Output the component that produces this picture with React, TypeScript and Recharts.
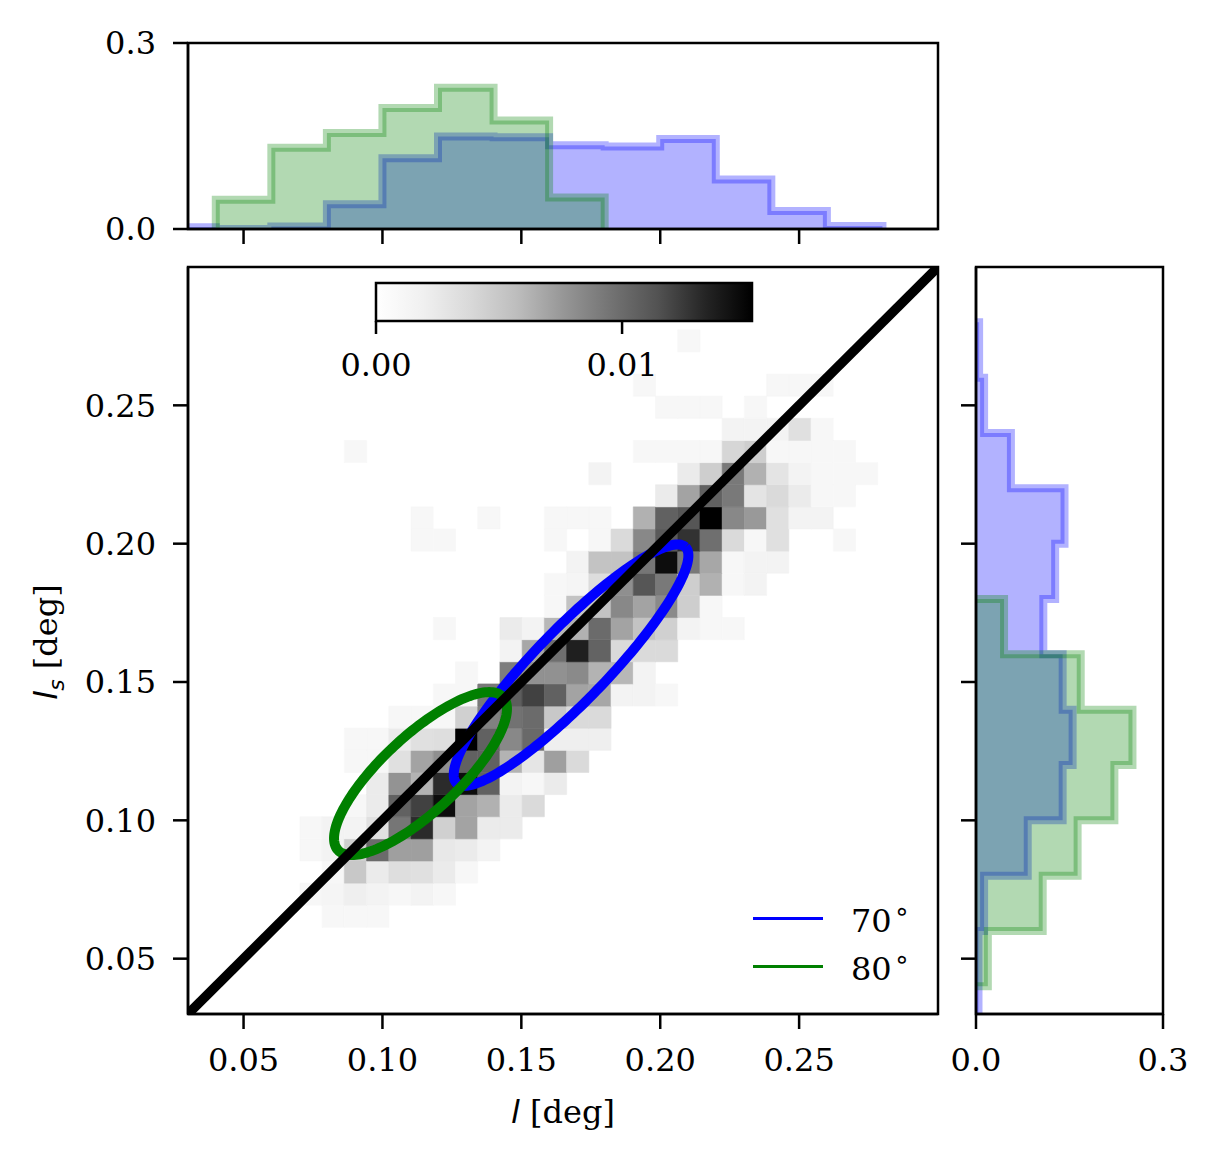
import React from "react";
import { ComposedChart, Area, Line, XAxis, YAxis, ReferenceArea } from "recharts";

const W = 1220;
const H = 1163;
const SERIF = '"DejaVu Serif", serif';
const SANS = '"DejaVu Sans", sans-serif';

// axis ticks
const MAIN_TICKS = [0.05, 0.1, 0.15, 0.2, 0.25];
const HIST_TICKS = [0, 0.3];
const CB_TICKS = [0, 0.01];
const CB_MAX = 0.01528;

// 2d histogram (density x 1e-3), rows from bottom (y) to top, columns left to right (x)
const HEAT_X0 = 0.0703;
const HEAT_Y0 = 0.0613;
const HEAT_BIN = 0.008;
const HEAT_ROWS = [
  [0, 1, 1, 1, 0, 0, 0, 0, 0, 0, 0, 0, 0, 0, 0, 0, 0, 0, 0, 0, 0, 0, 0, 0, 0, 0],
  [1, 1.3, 2, 1.5, 1, 1.5, 1, 0, 0, 0, 0, 0, 0, 0, 0, 0, 0, 0, 0, 0, 0, 0, 0, 0, 0, 0],
  [0, 1, 5, 2.3, 3.4, 3.2, 2.3, 1, 0, 0, 0, 0, 0, 0, 0, 0, 0, 0, 0, 0, 0, 0, 0, 0, 0, 0],
  [1, 1.5, 4.5, 10, 7.2, 7.2, 2.6, 2.3, 1.5, 0, 0, 0, 0, 0, 0, 0, 0, 0, 0, 0, 0, 0, 0, 0, 0, 0],
  [1, 1.5, 1.5, 3.2, 9.4, 13.1, 4.4, 7, 2.3, 2.3, 0, 0, 0, 0, 0, 0, 0, 0, 0, 0, 0, 0, 0, 0, 0, 0],
  [0, 0, 1, 2.3, 10.6, 12.2, 14.6, 7, 6.3, 2.3, 3.7, 0, 0, 0, 0, 0, 0, 0, 0, 0, 0, 0, 0, 0, 0, 0],
  [0, 0, 0, 2.3, 7.8, 6.2, 13.1, 14.6, 10.6, 1.5, 1, 2.3, 0, 0, 0, 0, 0, 0, 0, 0, 0, 0, 0, 0, 0, 0],
  [0, 0, 1, 1, 3.2, 7, 8, 10.6, 10.6, 6.2, 2.8, 7.2, 3.7, 0, 0, 0, 0, 0, 0, 0, 0, 0, 0, 0, 0, 0],
  [0, 0, 1, 1, 2.3, 3.2, 3.4, 15.3, 10.6, 8.4, 10.1, 2, 2, 2, 0, 0, 0, 0, 0, 0, 0, 0, 0, 0, 0, 0],
  [0, 0, 0, 0, 1, 1, 1, 4.4, 8.8, 9.6, 10, 5, 3.7, 3.7, 0, 0, 0, 0, 0, 0, 0, 0, 0, 0, 0, 0],
  [0, 0, 0, 0, 0, 0, 1, 1, 9.2, 10.8, 12.2, 10.6, 7, 6.8, 1.5, 1.5, 1, 0, 0, 0, 0, 0, 0, 0, 0, 0],
  [0, 0, 0, 0, 0, 0, 0, 1, 0, 9, 7.9, 7.9, 8.3, 6.2, 6, 1.5, 0, 0, 0, 0, 0, 0, 0, 0, 0, 0],
  [0, 0, 0, 0, 0, 0, 0, 0, 0, 1.5, 6.8, 9.8, 13.7, 10.5, 3.7, 3.7, 3.7, 0, 0, 0, 0, 0, 0, 0, 0, 0],
  [0, 0, 0, 0, 0, 0, 1, 0, 0, 2.3, 1.5, 6, 6.3, 10, 7, 5.3, 4.4, 1.5, 1, 1, 0, 0, 0, 0, 0, 0],
  [0, 0, 0, 0, 0, 0, 0, 0, 0, 0, 0, 1, 5.3, 5.3, 8.4, 7, 8.3, 4.6, 1, 0, 0, 0, 0, 0, 0, 0],
  [0, 0, 0, 0, 0, 0, 0, 0, 0, 0, 0, 1, 1.3, 3.5, 8, 11.2, 9.2, 4.6, 6.3, 1, 1.5, 0, 0, 0, 0, 0],
  [0, 0, 0, 0, 0, 0, 0, 0, 0, 0, 0, 0, 1.5, 5.3, 5.3, 9.4, 14.6, 9.2, 6.8, 1, 1.5, 1.5, 0, 0, 0, 0],
  [0, 0, 0, 0, 0, 1, 1, 0, 0, 0, 0, 1, 0, 1, 3.7, 8.4, 11, 12.8, 9.8, 3.7, 1, 3.2, 0, 0, 1, 0],
  [0, 0, 0, 0, 0, 1, 0, 0, 1, 0, 0, 1, 1, 1, 0, 6.3, 10.6, 11.2, 15.3, 8.4, 7.5, 3.2, 1.5, 1.5, 0, 0],
  [0, 0, 0, 0, 0, 0, 0, 0, 0, 0, 0, 0, 0, 0, 0, 0, 2.3, 7, 10.6, 9.2, 2.9, 3.7, 2.3, 1, 1, 0],
  [0, 0, 0, 0, 0, 0, 0, 0, 0, 0, 0, 0, 0, 1.5, 0, 0, 0, 2.3, 4.6, 9.2, 6.3, 2.9, 1.5, 1, 1, 1],
  [0, 0, 1, 0, 0, 0, 0, 0, 0, 0, 0, 0, 0, 0, 0, 1, 1, 1, 1, 4, 4.6, 1, 1, 1, 1, 0],
  [0, 0, 0, 0, 0, 0, 0, 0, 0, 0, 0, 0, 0, 0, 0, 0, 0, 0, 0, 1.5, 1.5, 1.5, 3.2, 1, 0, 0],
  [0, 0, 0, 0, 0, 0, 0, 0, 0, 0, 0, 0, 0, 0, 0, 0, 1, 1, 1, 0, 1, 0, 0, 0, 0, 0],
  [0, 0, 0, 0, 0, 0, 0, 0, 0, 0, 0, 0, 0, 0, 0, 1, 0, 0, 0, 0, 0, 1, 1, 1, 0, 0],
  [0, 0, 0, 0, 0, 0, 0, 0, 0, 0, 0, 0, 0, 0, 0, 0, 0, 0, 0, 0, 0, 0, 0, 0, 0, 0],
  [0, 0, 0, 0, 0, 0, 0, 0, 0, 0, 0, 0, 0, 0, 0, 0, 0, 1, 0, 0, 0, 0, 0, 0, 0, 0],
];

// marginal histograms: bin edges and heights
const TOP_BLUE_EDGES = [0.03, 0.04, 0.06, 0.08, 0.1, 0.12, 0.14, 0.16, 0.18, 0.2, 0.22, 0.24, 0.26, 0.28];
const TOP_BLUE = [0.003, 0, 0.004, 0.04, 0.114, 0.149, 0.148, 0.135, 0.133, 0.145, 0.08, 0.029, 0.005];
const TOP_GREEN_EDGES = [0.04, 0.06, 0.08, 0.1, 0.12, 0.14, 0.16, 0.18];
const TOP_GREEN = [0.047, 0.131, 0.155, 0.195, 0.228, 0.175, 0.051];

const SIDE_BLUE_EDGES = [0.03, 0.06, 0.08, 0.1, 0.12, 0.14, 0.16, 0.18, 0.2, 0.22, 0.24, 0.26, 0.28];
const SIDE_BLUE = [0.004, 0.013, 0.083, 0.139, 0.155, 0.139, 0.108, 0.127, 0.142, 0.056, 0.013, 0.005];
const SIDE_GREEN_EDGES = [0.04, 0.06, 0.08, 0.1, 0.12, 0.14, 0.16, 0.18];
const SIDE_GREEN = [0.019, 0.107, 0.163, 0.222, 0.251, 0.168, 0.045];

// ellipses: [cx, cy, semi-major, semi-minor, angle deg]
const BLUE_ELLIPSE = [0.1679, 0.1561, 0.0593, 0.013, 46];
const GREEN_ELLIPSE = [0.1137, 0.1169, 0.0406, 0.0137, 43];
const DIAGONAL = [0.03, 0.3];

// colorbar extent
const CB_RANGE = [0, CB_MAX];

const LEGEND = [
  { label: "70", color: "#0000ff" },
  { label: "80", color: "#008000" },
];

const GREYS = [255, 240, 217, 189, 150, 115, 82, 37, 0];

function grey(v: number) {
  const t = Math.max(0, Math.min(1, v / CB_MAX)) * 8;
  const i = Math.min(7, Math.floor(t));
  const g = Math.round(GREYS[i] + (GREYS[i + 1] - GREYS[i]) * (t - i));
  return `rgb(${g},${g},${g})`;
}

const cells = HEAT_ROWS.flatMap((row, r) =>
  row
    .map((v, c) => ({
      x1: HEAT_X0 + c * HEAT_BIN,
      x2: HEAT_X0 + (c + 1) * HEAT_BIN,
      y1: HEAT_Y0 + r * HEAT_BIN,
      y2: HEAT_Y0 + (r + 1) * HEAT_BIN,
      v: v / 1000,
    }))
    .filter((d) => d.v > 0)
);

function stepPoints(edges: number[], vals: number[]) {
  const pts = [{ pos: edges[0], v: 0 }];
  vals.forEach((v, i) => pts.push({ pos: edges[i], v }));
  pts.push({ pos: edges[edges.length - 1], v: 0 });
  return pts;
}

function ellipsePoints(e: number[]) {
  const [cx, cy, a, b, deg] = e;
  const phi = (deg * Math.PI) / 180;
  const pts = [];
  for (let k = 0; k <= 180; k++) {
    const t = (k / 180) * 2 * Math.PI;
    pts.push({
      x: cx + a * Math.cos(t) * Math.cos(phi) - b * Math.sin(t) * Math.sin(phi),
      y: cy + a * Math.cos(t) * Math.sin(phi) + b * Math.sin(t) * Math.cos(phi),
    });
  }
  return pts;
}

const tickStyle = { fill: "#000", fontSize: 32, fontFamily: SERIF };
const lineStyle = { stroke: "#000", strokeWidth: 2.5 };
const noLabel = () => "";

const abs: React.CSSProperties = { position: "absolute", left: 0, top: 0 };

export default function App() {
  return (
    <div style={{ position: "absolute", left: 0, top: 0, width: W, height: H, background: "#fff" }}>
      {/* main joint panel */}
      <div style={abs}>
        <ComposedChart width={W} height={H} margin={{ top: 267, right: 282, bottom: 89, left: 88 }}>
          <XAxis
            type="number"
            dataKey="x"
            domain={[0.03, 0.3]}
            allowDataOverflow
            ticks={MAIN_TICKS}
            tickFormatter={(v) => v.toFixed(2)}
            height={60}
            tickSize={15}
            tickMargin={19}
            tick={tickStyle}
            tickLine={lineStyle}
            axisLine={lineStyle}
          />
          <YAxis
            type="number"
            dataKey="y"
            domain={[0.03, 0.3]}
            allowDataOverflow
            ticks={MAIN_TICKS}
            tickFormatter={(v) => v.toFixed(2)}
            width={100}
            tickSize={15}
            tickMargin={17}
            tick={tickStyle}
            tickLine={lineStyle}
            axisLine={lineStyle}
          />
          {cells.map((d, i) => (
            <ReferenceArea
              key={i}
              x1={d.x1}
              x2={d.x2}
              y1={d.y1}
              y2={d.y2}
              fill={grey(d.v)}
              fillOpacity={1}
              stroke={grey(d.v)}
              strokeWidth={0.6}
            />
          ))}
          <Line
            data={ellipsePoints(BLUE_ELLIPSE)}
            dataKey="y"
            type="linear"
            stroke="#0000ff"
            strokeWidth={10}
            dot={false}
            isAnimationActive={false}
          />
          <Line
            data={ellipsePoints(GREEN_ELLIPSE)}
            dataKey="y"
            type="linear"
            stroke="#008000"
            strokeWidth={10}
            dot={false}
            isAnimationActive={false}
          />
          <Line
            data={DIAGONAL.map((v) => ({ x: v, y: v }))}
            dataKey="y"
            type="linear"
            stroke="#000"
            strokeWidth={9.5}
            dot={false}
            isAnimationActive={false}
          />
          <ReferenceArea x1={0.03} x2={0.3} y1={0.03} y2={0.3} fill="none" stroke="#000" strokeWidth={2.5} />
        </ComposedChart>
      </div>

      {/* top marginal histogram */}
      <div style={abs}>
        <ComposedChart width={W} height={H} margin={{ top: 43, right: 282, bottom: 874, left: 88 }}>
          <XAxis
            type="number"
            dataKey="pos"
            domain={[0.03, 0.3]}
            allowDataOverflow
            ticks={MAIN_TICKS}
            tickFormatter={noLabel}
            height={60}
            tickSize={15}
            tick={tickStyle}
            tickLine={lineStyle}
            axisLine={lineStyle}
          />
          <YAxis
            type="number"
            domain={[0, 0.3]}
            allowDataOverflow
            ticks={HIST_TICKS}
            tickFormatter={(v) => v.toFixed(1)}
            width={100}
            tickSize={15}
            tickMargin={17}
            tick={tickStyle}
            tickLine={lineStyle}
            axisLine={lineStyle}
          />
          <Area
            data={stepPoints(TOP_BLUE_EDGES, TOP_BLUE)}
            dataKey="v"
            type="stepAfter"
            fill="#0000ff"
            fillOpacity={0.3}
            stroke="#0000ff"
            strokeOpacity={0.3}
            strokeWidth={8}
            isAnimationActive={false}
          />
          <Area
            data={stepPoints(TOP_GREEN_EDGES, TOP_GREEN)}
            dataKey="v"
            type="stepAfter"
            fill="#008000"
            fillOpacity={0.3}
            stroke="#008000"
            strokeOpacity={0.3}
            strokeWidth={8}
            isAnimationActive={false}
          />
          <ReferenceArea x1={0.03} x2={0.3} y1={0} y2={0.3} fill="none" stroke="#000" strokeWidth={2.5} />
        </ComposedChart>
      </div>

      {/* right marginal histogram */}
      <div style={abs}>
        <ComposedChart
          layout="vertical"
          width={W}
          height={H}
          margin={{ top: 267, right: 57, bottom: 89, left: 876 }}
        >
          <XAxis
            type="number"
            domain={[0, 0.3]}
            allowDataOverflow
            ticks={HIST_TICKS}
            tickFormatter={(v) => v.toFixed(1)}
            height={60}
            tickSize={15}
            tickMargin={19}
            tick={tickStyle}
            tickLine={lineStyle}
            axisLine={lineStyle}
          />
          <YAxis
            type="number"
            dataKey="pos"
            domain={[0.03, 0.3]}
            allowDataOverflow
            reversed
            ticks={MAIN_TICKS}
            tickFormatter={noLabel}
            width={100}
            tickSize={15}
            tick={tickStyle}
            tickLine={lineStyle}
            axisLine={lineStyle}
          />
          <Area
            data={stepPoints(SIDE_BLUE_EDGES, SIDE_BLUE)}
            dataKey="v"
            type="stepBefore"
            fill="#0000ff"
            fillOpacity={0.3}
            stroke="#0000ff"
            strokeOpacity={0.3}
            strokeWidth={8}
            isAnimationActive={false}
          />
          <Area
            data={stepPoints(SIDE_GREEN_EDGES, SIDE_GREEN)}
            dataKey="v"
            type="stepBefore"
            fill="#008000"
            fillOpacity={0.3}
            stroke="#008000"
            strokeOpacity={0.3}
            strokeWidth={8}
            isAnimationActive={false}
          />
          <ReferenceArea x1={0} x2={0.3} y1={0.03} y2={0.3} fill="none" stroke="#000" strokeWidth={2.5} />
        </ComposedChart>
      </div>

      {/* colorbar */}
      <div style={abs}>
        <ComposedChart width={W} height={H} margin={{ top: 283, right: 468, bottom: 782, left: 376 }}>
          <defs>
            <linearGradient id="cbGrad" x1="0" y1="0" x2="1" y2="0">
              {GREYS.map((g, i) => (
                <stop key={i} offset={`${(i / 8) * 100}%`} stopColor={`rgb(${g},${g},${g})`} />
              ))}
            </linearGradient>
          </defs>
          <XAxis
            type="number"
            dataKey="x"
            domain={[0, CB_MAX]}
            allowDataOverflow
            ticks={CB_TICKS}
            tickFormatter={(v) => v.toFixed(2)}
            height={60}
            tickSize={13}
            tickMargin={19}
            tick={tickStyle}
            tickLine={lineStyle}
            axisLine={false}
          />
          <YAxis type="number" hide domain={[0, 1]} allowDataOverflow />
          <Area
            data={CB_RANGE.map((x) => ({ x, v: 1 }))}
            dataKey="v"
            type="linear"
            fill="url(#cbGrad)"
            fillOpacity={1}
            stroke="none"
            isAnimationActive={false}
          />
          <ReferenceArea x1={0} x2={CB_MAX} y1={0} y2={1} fill="none" stroke="#000" strokeWidth={2.5} />
        </ComposedChart>
      </div>

      {/* axis labels */}
      <div
        style={{
          position: "absolute",
          left: 463,
          top: 1094,
          width: 200,
          textAlign: "center",
          fontFamily: SERIF,
          fontSize: 32,
          lineHeight: "36px",
          whiteSpace: "nowrap",
        }}
      >
        <span style={{ fontFamily: SANS, fontStyle: "italic" }}>l</span> [deg]
      </div>
      <div
        style={{
          position: "absolute",
          left: -54,
          top: 622,
          width: 200,
          height: 40,
          lineHeight: "40px",
          textAlign: "center",
          fontFamily: SERIF,
          fontSize: 32,
          whiteSpace: "nowrap",
          transform: "rotate(-90deg)",
        }}
      >
        <span style={{ fontFamily: SANS, fontStyle: "italic" }}>l</span>
        <span style={{ fontFamily: SANS, fontStyle: "italic", fontSize: 22, position: "relative", top: 7 }}>s</span> [deg]
      </div>

      {/* legend */}
      {LEGEND.map((item, i) => (
        <React.Fragment key={item.label}>
          <div
            style={{
              position: "absolute",
              left: 753,
              top: 917 + i * 48,
              width: 70,
              borderTop: `3.5px solid ${item.color}`,
            }}
          />
          <div
            style={{
              position: "absolute",
              left: 851,
              top: 905 + i * 48,
              fontFamily: SERIF,
              fontSize: 32,
              lineHeight: "32px",
              whiteSpace: "nowrap",
            }}
          >
            {item.label}
            <span style={{ fontFamily: SANS, fontSize: 26, position: "relative", top: -12, marginLeft: 2 }}>∘</span>
          </div>
        </React.Fragment>
      ))}
    </div>
  );
}
